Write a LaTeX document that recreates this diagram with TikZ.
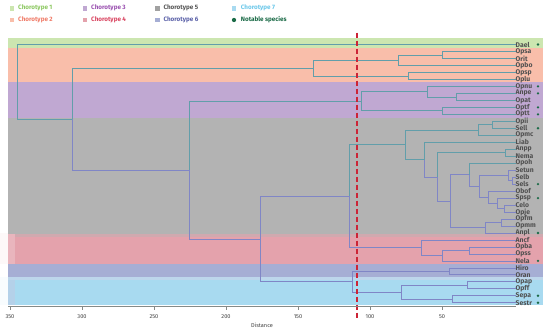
\documentclass[tikz,border=0pt]{standalone}
\usepackage{fontspec}
\setmainfont{Fira Sans}
\definecolor{bandA}{HTML}{CCE6B0}
\definecolor{bandB}{HTML}{F9BEAA}
\definecolor{bandC}{HTML}{C0A8D2}
\definecolor{bandE}{HTML}{B3B3B3}
\definecolor{bandD}{HTML}{E4A2AC}
\definecolor{bandF}{HTML}{A6AED4}
\definecolor{bandG}{HTML}{A8DAF0}
\definecolor{txA}{HTML}{8CC860}
\definecolor{txB}{HTML}{F07A66}
\definecolor{txC}{HTML}{9A50B0}
\definecolor{txD}{HTML}{D9435F}
\definecolor{txE}{HTML}{555555}
\definecolor{txF}{HTML}{5A60A8}
\definecolor{txG}{HTML}{6CC8EA}
\definecolor{dotgreen}{HTML}{1B6B47}
\definecolor{brT}{HTML}{629EAA}
\definecolor{brL}{HTML}{8086C6}
\definecolor{labgrey}{HTML}{505050}
\definecolor{axgrey}{HTML}{858A88}
\definecolor{cutred}{HTML}{CC2436}
\newcommand\dbr[3]{\draw[#1] (#2) |- (#3);}
\newcommand\leaffont{\fontsize{6.8}{7}\selectfont\bfseries}
\newcommand\legfont{\fontsize{6.3}{7}\selectfont\bfseries}
\newcommand\axfont{\fontsize{5.6}{6}\selectfont}
\tikzset{
  tl/.style={line width=0.7pt, brT},
  lv/.style={line width=0.7pt, brL},
  leaf/.style={anchor=west, inner sep=0pt, font=\leaffont, text=labgrey},
  notable/.style={circle, fill=dotgreen, inner sep=0pt, minimum size=2.6pt},
  legsq/.style={inner sep=0pt, minimum size=4.5pt},
  legtx/.style={anchor=west, inner sep=0pt, font=\legfont},
  ticklab/.style={inner sep=0pt, font=\axfont, text=black!75},
}
\begin{document}
\begin{tikzpicture}[x=1pt,y=-1pt]
\useasboundingbox[fill=white] (0,0) rectangle (550,330);
% ---------- chorotype bands
\fill[bandA] (8,38.3) rectangle (543,47.7);
\fill[bandB] (8,47.7) rectangle (543,82.3);
\fill[bandC] (8,82.3) rectangle (543,118.3);
\fill[bandE] (8,118.3) rectangle (543,234.3);
\fill[bandD!60!bandE] (8,234.3) rectangle (543,236.9);
\fill[bandD] (8,236.9) rectangle (543,264.3);
\fill[bandF] (8,264.3) rectangle (543,276.7);
\fill[bandG!60!bandF!75!white] (8,276.7) rectangle (543,280);
\fill[bandG] (8,280) rectangle (543,305);
\fill[bandD!80!white] (8,234.3) rectangle (15,264.3);
\fill[bandG!60!bandF!85!white] (8,280) rectangle (15,305);
\fill[bandD!8!white] (0,232.7) rectangle (8,264.3);
\fill[bandG!8!white] (0,276.7) rectangle (8,305);
% ---------- leaves
\node[leaf] (Dael)  at (515.5,44.50) {Dael};
\node[leaf] (Opsa)  at (515.5,51.48) {Opsa};
\node[leaf] (Orit)  at (515.5,58.46) {Orit};
\node[leaf] (Opbo)  at (515.5,65.44) {Opbo};
\node[leaf] (Opsp)  at (515.5,72.42) {Opsp};
\node[leaf] (Oplu)  at (515.5,79.40) {Oplu};
\node[leaf] (Opnu)  at (515.5,86.38) {Opnu};
\node[leaf] (Anpe)  at (515.5,93.36) {Anpe};
\node[leaf] (Opat)  at (515.5,100.34) {Opat};
\node[leaf] (Optf)  at (515.5,107.32) {Optf};
\node[leaf] (Optt)  at (515.5,114.30) {Optt};
\node[leaf] (Opii)  at (515.5,121.28) {Opii};
\node[leaf] (Sell)  at (515.5,128.26) {Sell};
\node[leaf] (Opmc)  at (515.5,135.24) {Opmc};
\node[leaf] (Liab)  at (515.5,142.22) {Liab};
\node[leaf] (Anpp)  at (515.5,149.20) {Anpp};
\node[leaf] (Nema)  at (515.5,156.18) {Nema};
\node[leaf] (Opoh)  at (515.5,163.16) {Opoh};
\node[leaf] (Setun) at (515.5,170.14) {Setun};
\node[leaf] (Selb)  at (515.5,177.12) {Selb};
\node[leaf] (Sels)  at (515.5,184.10) {Sels};
\node[leaf] (Obof)  at (515.5,191.08) {Obof};
\node[leaf] (Spsp)  at (515.5,198.06) {Spsp};
\node[leaf] (Celo)  at (515.5,205.04) {Celo};
\node[leaf] (Opje)  at (515.5,212.02) {Opje};
\node[leaf] (Opfm)  at (515.5,219.00) {Opfm};
\node[leaf] (Opmm)  at (515.5,225.98) {Opmm};
\node[leaf] (Anpl)  at (515.5,232.96) {Anpl};
\node[leaf] (Ancf)  at (515.5,239.94) {Ancf};
\node[leaf] (Opba)  at (515.5,246.92) {Opba};
\node[leaf] (Opss)  at (515.5,253.90) {Opss};
\node[leaf] (Nela)  at (515.5,260.88) {Nela};
\node[leaf] (Hiro)  at (515.5,267.86) {Hiro};
\node[leaf] (Oran)  at (515.5,274.84) {Oran};
\node[leaf] (Opap)  at (515.5,281.82) {Opap};
\node[leaf] (Opff)  at (515.5,288.80) {Opff};
\node[leaf] (Sepa)  at (515.5,295.78) {Sepa};
\node[leaf] (Sestr) at (515.5,302.76) {Sestr};
% notable species
\foreach \yy/\nm in {44.50/dDael,86.38/dOpnu,93.36/dAnpe,107.32/dOptf,114.30/dOptt,128.26/dSell,184.10/dSels,198.06/dSpsp,232.96/dAnpl,260.88/dNela,295.78/dSepa,302.76/dSestr}
  \node[notable] (\nm) at (538,\yy) {};
% ---------- internal nodes
\coordinate (nA) at (442.3,54.97);
\coordinate (nB) at (398.3,60.20);
\coordinate (nC) at (408.3,75.91);
\coordinate (nD) at (313.0,68.06);
\coordinate (nE) at (456.7,96.85);
\coordinate (nF) at (427.7,91.62);
\coordinate (nG) at (442.3,110.81);
\coordinate (nH) at (361.7,101.21);
\coordinate (nI) at (492.3,124.77);
\coordinate (nJ) at (478.5,130.00);
\coordinate (nK) at (505.0,152.69);
\coordinate (nL) at (512.0,180.61);
\coordinate (nM) at (508.0,175.38);
\coordinate (nN) at (504.0,208.53);
\coordinate (nO) at (497.3,203.29);
\coordinate (nP) at (488.3,197.19);
\coordinate (nQ) at (479.0,186.28);
\coordinate (nR) at (469.3,174.72);
\coordinate (nS) at (501.7,222.49);
\coordinate (nT) at (485.0,227.73);
\coordinate (nU) at (450.0,201.22);
\coordinate (nV) at (437.3,176.96);
\coordinate (nW) at (424.0,159.59);
\coordinate (nX) at (405.0,144.79);
\coordinate (nY) at (469.0,250.41);
\coordinate (nZ) at (442.7,255.64);
\coordinate (nAA) at (421.0,247.79);
\coordinate (nAB) at (349.0,196.29);
\coordinate (nAC) at (449.0,271.35);
\coordinate (nAD) at (467.7,285.31);
\coordinate (nAE) at (452.3,299.27);
\coordinate (nAF) at (401.0,292.29);
\coordinate (nAG) at (352.7,281.82);
\coordinate (nAH) at (260.0,239.06);
\coordinate (nAI) at (189.0,170.13);
\coordinate (nAJ) at (72.3,119.10);
\coordinate (root) at (17.3,81.80);
% ---------- branches
\dbr{tl}{root}{Dael.west}
\dbr{tl}{root}{nAJ}
\dbr{tl}{nAJ}{nD}
\dbr{lv}{nAJ}{nAI}
\dbr{tl}{nD}{nB}
\dbr{tl}{nD}{nC}
\dbr{tl}{nB}{nA}
\dbr{tl}{nB}{Opbo.west}
\dbr{tl}{nA}{Opsa.west}
\dbr{tl}{nA}{Orit.west}
\dbr{tl}{nC}{Opsp.west}
\dbr{tl}{nC}{Oplu.west}
\dbr{tl}{nAI}{nH}
\dbr{lv}{nAI}{nAH}
\dbr{tl}{nH}{nF}
\dbr{tl}{nH}{nG}
\dbr{tl}{nF}{Opnu.west}
\dbr{tl}{nF}{nE}
\dbr{tl}{nE}{Anpe.west}
\dbr{tl}{nE}{Opat.west}
\dbr{tl}{nG}{Optf.west}
\dbr{tl}{nG}{Optt.west}
\dbr{lv}{nAH}{nAB}
\dbr{lv}{nAH}{nAG}
\dbr{tl}{nAB}{nX}
\dbr{lv}{nAB}{nAA}
\dbr{tl}{nX}{nJ}
\dbr{tl}{nX}{nW}
\dbr{tl}{nJ}{nI}
\dbr{tl}{nJ}{Opmc.west}
\dbr{tl}{nI}{Opii.west}
\dbr{tl}{nI}{Sell.west}
\dbr{tl}{nW}{Liab.west}
\dbr{lv}{nW}{nV}
\dbr{tl}{nV}{nK}
\dbr{lv}{nV}{nU}
\dbr{tl}{nK}{Anpp.west}
\dbr{tl}{nK}{Nema.west}
\dbr{lv}{nU}{nR}
\dbr{lv}{nU}{nT}
\dbr{tl}{nR}{Opoh.west}
\dbr{lv}{nR}{nQ}
\dbr{lv}{nQ}{nM}
\dbr{lv}{nQ}{nP}
\dbr{lv}{nM}{Setun.west}
\dbr{lv}{nM}{nL}
\dbr{lv}{nL}{Selb.west}
\dbr{lv}{nL}{Sels.west}
\dbr{lv}{nP}{Obof.west}
\dbr{lv}{nP}{nO}
\dbr{lv}{nO}{Spsp.west}
\dbr{lv}{nO}{nN}
\dbr{lv}{nN}{Celo.west}
\dbr{lv}{nN}{Opje.west}
\dbr{lv}{nT}{nS}
\dbr{lv}{nT}{Anpl.west}
\dbr{lv}{nS}{Opfm.west}
\dbr{lv}{nS}{Opmm.west}
\dbr{lv}{nAA}{Ancf.west}
\dbr{lv}{nAA}{nZ}
\dbr{lv}{nZ}{nY}
\dbr{lv}{nZ}{Nela.west}
\dbr{lv}{nY}{Opba.west}
\dbr{lv}{nY}{Opss.west}
\dbr{lv}{nAG}{nAC}
\dbr{lv}{nAG}{nAF}
\dbr{lv}{nAC}{Hiro.west}
\dbr{lv}{nAC}{Oran.west}
\dbr{lv}{nAF}{nAD}
\dbr{lv}{nAF}{nAE}
\dbr{lv}{nAD}{Opap.west}
\dbr{lv}{nAD}{Opff.west}
\dbr{lv}{nAE}{Sepa.west}
\dbr{lv}{nAE}{Sestr.west}
% ---------- cut-off line
\coordinate (cutTop) at (357.3,32.5);
\coordinate (cutBot) at (357.3,320);
\draw[cutred, line width=1.7pt, dash pattern=on 5.5pt off 2.5pt] (cutTop) -- (cutBot);
% ---------- axis
\coordinate (axL) at (8,306.7);
\coordinate (axR) at (515.5,306.7);
\draw[axgrey, line width=0.6pt] (axL) -- (axR);
\foreach \d/\lab in {350/350,300/300,250/250,200/200,150/150,100/100,50/50}{
  \draw[axgrey, line width=0.5pt] ({514-1.44*\d},306.7) -- ({514-1.44*\d},309.8);
  \node[ticklab] (tick\d) at ({514-1.44*\d},316.5) {\lab};
}
\node[ticklab] (xlabel) at (262,325.5) {Distance};
% ---------- legend
\node[legsq, fill=bandA] (sq1) at (12.2,8.3) {};
\node[legtx, text=txA] (lg1) at (18,8.3) {Chorotype 1};
\node[legsq, fill=bandB] (sq2) at (12.2,20) {};
\node[legtx, text=txB] (lg2) at (18,20) {Chorotype 2};
\node[legsq, fill=bandC] (sq3) at (84.8,8.3) {};
\node[legtx, text=txC] (lg3) at (91,8.3) {Chorotype 3};
\node[legsq, fill=bandD] (sq4) at (84.8,20) {};
\node[legtx, text=txD] (lg4) at (91,20) {Chorotype 4};
\node[legsq, fill=bandE!90!black] (sq5) at (157.3,8.3) {};
\node[legtx, text=txE] (lg5) at (163.3,8.3) {Chorotype 5};
\node[legsq, fill=bandF] (sq6) at (157.3,20) {};
\node[legtx, text=txF] (lg6) at (163.3,20) {Chorotype 6};
\node[legsq, fill=bandG] (sq7) at (234,8.3) {};
\node[legtx, text=txG] (lg7) at (240.7,8.3) {Chorotype 7};
\node[notable, minimum size=4.3pt] (sq8) at (234,20) {};
\node[legtx, text=dotgreen] (lg8) at (240.7,20) {Notable species};
\end{tikzpicture}
\end{document}
